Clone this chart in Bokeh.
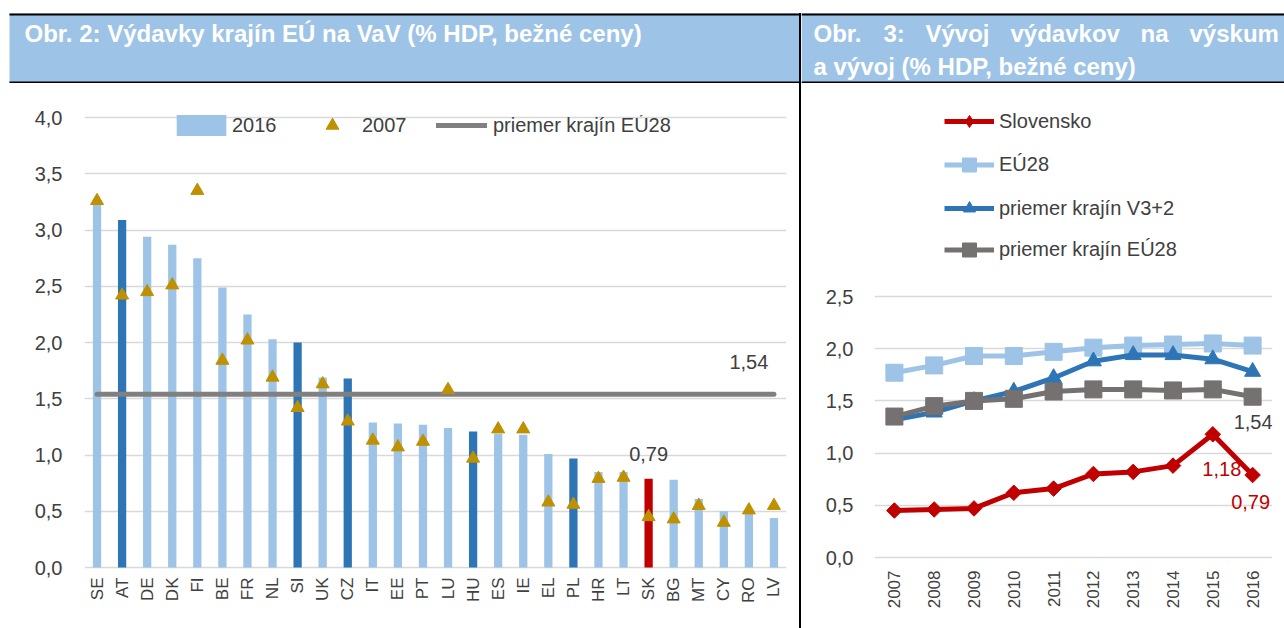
import numpy as np
from bokeh.plotting import figure
from bokeh.models import (ColumnDataSource, FactorRange, Range1d, FixedTicker,
                          CustomJSTickFormatter, Legend, LegendItem, Div, Spacer)
from bokeh.layouts import row, column
from bokeh.core.properties import value
from bokeh.embed import file_html
from bokeh.resources import INLINE

# ---------------- data ----------------
title_left = "Obr. 2: Výdavky krajín EÚ na VaV (% HDP, bežné ceny)"
title_right_line1 = ["Obr.", "3:", "Vývoj", "výdavkov", "na", "výskum"]
title_right_line2 = "a vývoj (% HDP, bežné ceny)"

countries = ["SE", "AT", "DE", "DK", "FI", "BE", "FR", "NL", "SI", "UK", "CZ", "IT", "EE", "PT",
             "LU", "HU", "ES", "IE", "EL", "PL", "HR", "LT", "SK", "BG", "MT", "CY", "RO", "LV"]
rd_2016 = [3.25, 3.09, 2.94, 2.87, 2.75, 2.49, 2.25, 2.03, 2.00, 1.69, 1.68, 1.29, 1.28, 1.27,
           1.24, 1.21, 1.19, 1.18, 1.01, 0.97, 0.85, 0.85, 0.79, 0.78, 0.61, 0.50, 0.48, 0.44]
rd_2007 = [3.26, 2.42, 2.45, 2.51, 3.35, 1.84, 2.02, 1.69, 1.42, 1.63, 1.30, 1.13, 1.07, 1.12,
           1.58, 0.97, 1.23, 1.23, 0.58, 0.56, 0.79, 0.80, 0.45, 0.43, 0.55, 0.40, 0.51, 0.55]
eu28_countries_mean = 1.54
v3_plus_2 = ["AT", "SI", "CZ", "HU", "PL"]
highlight = "SK"

years = ["2007", "2008", "2009", "2010", "2011", "2012", "2013", "2014", "2015", "2016"]
slovensko = [0.45, 0.46, 0.47, 0.62, 0.66, 0.80, 0.82, 0.88, 1.18, 0.79]
eu28 = [1.77, 1.84, 1.93, 1.93, 1.97, 2.01, 2.03, 2.04, 2.05, 2.03]
v3_2_mean = [1.32, 1.39, 1.50, 1.59, 1.72, 1.88, 1.94, 1.94, 1.90, 1.78]
eu28_mean = [1.35, 1.45, 1.50, 1.52, 1.59, 1.61, 1.61, 1.60, 1.61, 1.54]

legend_left = ["2016", "2007", "priemer krajín EÚ28"]
legend_right = ["Slovensko", "EÚ28", "priemer krajín V3+2", "priemer krajín EÚ28"]

# ---------------- style ----------------
FONT = "Liberation Sans"
TXT = "#404040"
GRID = "#D9D9D9"
HDR = "#9DC3E6"
LIGHT = "#9DC3E6"
DARK = "#2E75B6"
RED = "#C00000"
GOLD = "#BF9000"
GREY_LINE = "#808080"
GREY_SER = "#767171"

LW, RW, HH, CH = 799, 483, 83, 545


def comma_fmt():
    return CustomJSTickFormatter(code="return tick.toFixed(1).replace('.', ',')")


def style_axes(p, ticks, xstand, ystand, xsize):
    p.yaxis.ticker = FixedTicker(ticks=ticks)
    p.yaxis.formatter = comma_fmt()
    for ax in (p.xaxis[0], p.yaxis[0]):
        ax.axis_line_color = None
        ax.major_tick_line_color = None
        ax.minor_tick_line_color = None
        ax.major_tick_out = 0
        ax.major_tick_in = 0
        ax.major_label_text_font = FONT
        ax.major_label_text_color = TXT
    p.yaxis.major_label_text_font_size = "20px"
    p.xaxis.major_label_text_font_size = xsize
    p.yaxis.major_label_standoff = ystand
    p.xaxis.major_label_standoff = xstand
    p.xaxis.major_label_orientation = np.pi / 2
    p.xgrid.visible = False
    p.ygrid.grid_line_color = GRID
    p.ygrid.grid_line_width = 1.5
    p.outline_line_color = None


def add_legend(p, renderers, label, loc, gw, gh, standoff):
    lg = Legend(items=[LegendItem(label=value(label), renderers=renderers, index=0)],
                location=loc, orientation="vertical", glyph_width=gw, glyph_height=gh,
                label_standoff=standoff, label_height=gh,
                padding=0, margin=0, spacing=0, border_line_color=None,
                background_fill_alpha=0, inactive_fill_alpha=0, label_text_font=FONT,
                label_text_font_size="20px", label_text_color=TXT)
    p.add_layout(lg)


def header(width):
    h = figure(width=width, height=HH, x_range=Range1d(0, width), y_range=Range1d(HH, 0),
               toolbar_location=None, output_backend="svg", min_border=0, title=None,
               x_axis_location=None, y_axis_location=None, frame_align=False)
    h.grid.visible = False
    h.outline_line_color = None
    return h


# ---------------- headers ----------------
hl = header(LW)
hl.quad(left=[9], right=[LW], top=[13], bottom=[83], fill_color=HDR, line_color=None)
hl.quad(left=[9], right=[LW], top=[13], bottom=[15], fill_color="black", line_color=None)
hl.quad(left=[9], right=[LW], top=[81], bottom=[83], fill_color="black", line_color=None)
hl.text(x=[24], y=[33], text=[title_left], text_font=value(FONT), text_font_style="bold",
        text_font_size="24px", text_color="white", text_baseline="middle")

hr = header(RW)
hr.quad(left=[0], right=[RW], top=[13], bottom=[83], fill_color=HDR, line_color=None)
hr.quad(left=[0], right=[RW], top=[13], bottom=[15], fill_color="black", line_color=None)
hr.quad(left=[0], right=[RW], top=[81], bottom=[82.5], fill_color="black", line_color=None)
word_x = [12, 82, 124, 209, 339, 388]
hr.text(x=word_x, y=[33] * len(word_x), text=title_right_line1, text_font=value(FONT),
        text_font_style="bold", text_font_size="24px", text_color="white",
        text_baseline="middle")
hr.text(x=[12], y=[66], text=[title_right_line2], text_font=value(FONT),
        text_font_style="bold", text_font_size="24px", text_color="white",
        text_baseline="middle")

# ---------------- left chart ----------------
unit_l = 112.5
yl0 = -2 / unit_l
pl = figure(width=LW, height=CH, x_range=FactorRange(factors=countries),
            y_range=Range1d(yl0, yl0 + (CH - 32 - 59) / unit_l), title=None,
            toolbar_location=None, output_backend="svg", frame_align=False,
            min_border_left=84, min_border_right=13, min_border_top=32, min_border_bottom=59)
style_axes(pl, [0, 0.5, 1.0, 1.5, 2.0, 2.5, 3.0, 3.5, 4.0], 8, 22, "17px")

colors = [RED if c == highlight else (DARK if c in v3_plus_2 else LIGHT) for c in countries]
src = ColumnDataSource(dict(country=countries, v2016=rd_2016, v2007=rd_2007, color=colors))
bars = pl.vbar(x="country", top="v2016", width=0.33, source=src, fill_color="color",
               line_color=None)
avg = pl.line(x=countries, y=[eu28_countries_mean] * len(countries), line_width=5,
              line_color=GREY_LINE, line_cap="round")
tri = pl.scatter(x="country", y="v2007", source=src, marker="triangle", size=13,
                 fill_color=GOLD, line_color=GOLD)

fmt = lambda v: f"{v:.2f}".replace(".", ",")
pl.text(x=[countries[-2]], y=[eu28_countries_mean], text=[fmt(eu28_countries_mean)],
        text_font=value(FONT), text_font_size="20px", text_color=TXT,
        text_align="center", text_baseline="middle", y_offset=-32)
sk_i = countries.index(highlight)
pl.text(x=[highlight], y=[rd_2016[sk_i]], text=[fmt(rd_2016[sk_i])],
        text_font=value(FONT), text_font_size="20px", text_color=TXT,
        text_align="center", text_baseline="middle", y_offset=-25)

add_legend(pl, [bars], legend_left[0], (86, 431), 62, 26, 0)
add_legend(pl, [tri], legend_left[1], (232, 428), 32, 32, 14)
add_legend(pl, [avg], legend_left[2], (352, 430), 51, 28, 6)

# ---------------- right chart ----------------
unit_r = 104.4
yr0 = -2 / unit_r
pr = figure(width=RW, height=CH, x_range=FactorRange(factors=years),
            y_range=Range1d(yr0, yr0 + (CH - 10 - 69) / unit_r), title=None,
            toolbar_location=None, output_backend="svg", frame_align=False,
            min_border_left=73, min_border_right=12, min_border_top=10, min_border_bottom=69)
style_axes(pr, [0, 0.5, 1.0, 1.5, 2.0, 2.5], 11, 21, "17px")

series = [
    (legend_right[1], eu28, LIGHT, "square", 17, 0),
    (legend_right[2], v3_2_mean, DARK, "triangle", 16, 0),
    (legend_right[3], eu28_mean, GREY_SER, "square", 17, 0),
    (legend_right[0], slovensko, RED, "square", 11, np.pi / 4),
]
rends = {}
for name, vals, col, mk, sz, ang in series:
    ln = pr.line(x=years, y=vals, line_width=5, line_color=col, line_join="round")
    sc = pr.scatter(x=years, y=vals, marker=mk, size=sz, angle=ang, fill_color=col,
                    line_color=col)
    rends[name] = [ln, sc]

# legend-only diamond for Slovensko (the plotted diamonds are rotated squares)
sk_leg = pr.scatter(x=years, y=slovensko, marker="diamond", size=12, fill_color=RED,
                    line_color=RED, visible=False)
rends[legend_right[0]] = [rends[legend_right[0]][0], sk_leg]

pr.text(x=[years[-1]], y=[eu28_mean[-1]], text=[fmt(eu28_mean[-1])],
        text_font=value(FONT), text_font_size="20px", text_color=TXT,
        text_align="right", text_baseline="middle", x_offset=20, y_offset=25)
pr.text(x=[years[-2]], y=[slovensko[-2]], text=[fmt(slovensko[-2])],
        text_font=value(FONT), text_font_size="20px", text_color=RED,
        text_align="center", text_baseline="middle", x_offset=9, y_offset=35)
pr.text(x=[years[-1]], y=[slovensko[-1]], text=[fmt(slovensko[-1])],
        text_font=value(FONT), text_font_size="20px", text_color=RED,
        text_align="center", text_baseline="middle", x_offset=-2, y_offset=27)

add_legend(pr, rends[legend_right[0]], legend_right[0], (70, 423), 50, 30, 5)
add_legend(pr, rends[legend_right[1]], legend_right[1], (70, 377), 50, 35, 5)
add_legend(pr, rends[legend_right[2]], legend_right[2], (70, 336), 50, 30, 5)
add_legend(pr, rends[legend_right[3]], legend_right[3], (70, 292), 50, 35, 5)

# ---------------- layout ----------------
sep = Div(text="", width=2, height=HH + CH - 13, margin=0,
          styles={"background-color": "black"})
layout = row(column(hl, pl), column(Spacer(width=2, height=13, margin=0), sep),
             column(hr, pr))

open("out.html", "w").write(file_html(layout, INLINE))
